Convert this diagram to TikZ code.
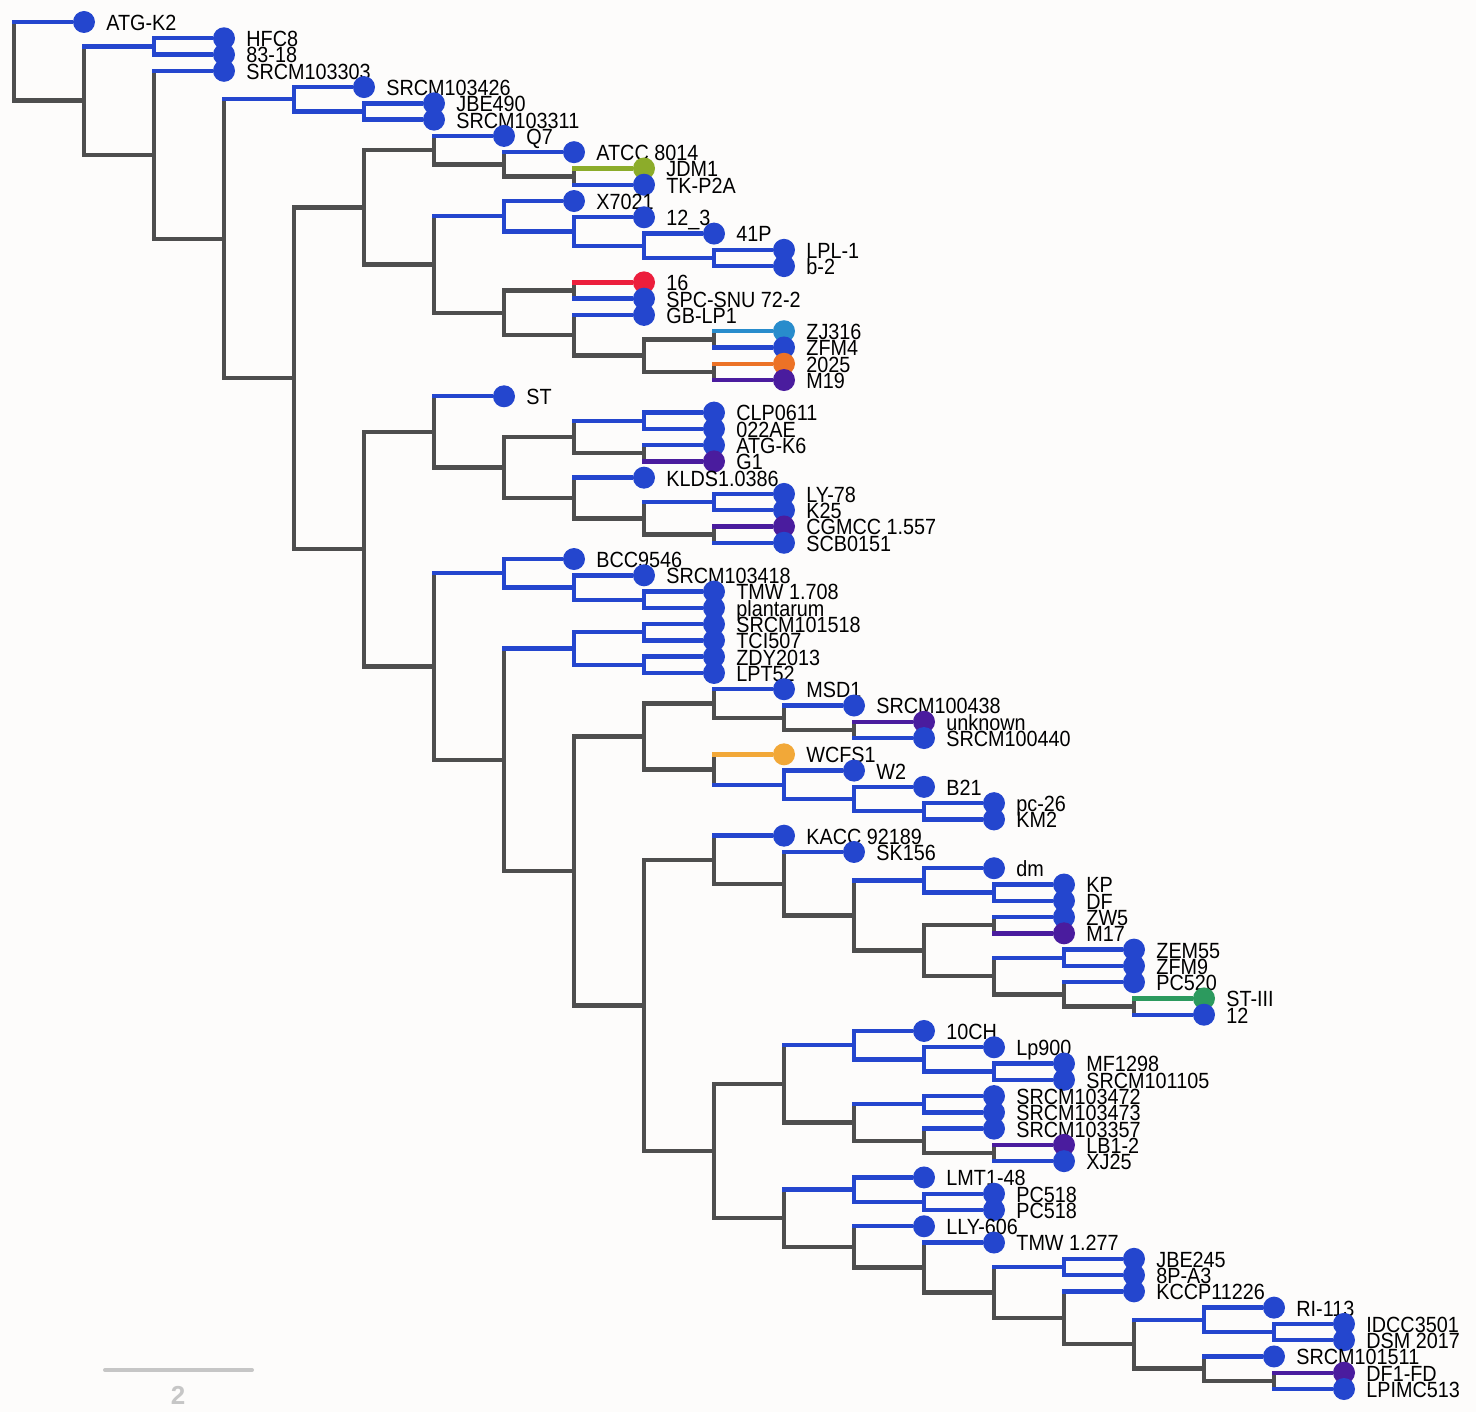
\documentclass[tikz,border=0pt]{standalone}
\usepackage{fontspec}
\setmainfont{Liberation Sans}
\newfontfamily\tagfont[FakeStretch=0.9]{Liberation Sans}
\usetikzlibrary{calc}
\definecolor{blu}{RGB}{36,70,206}
\definecolor{gry}{RGB}{78,78,78}
\definecolor{olv}{RGB}{140,172,42}
\definecolor{rd}{RGB}{236,30,60}
\definecolor{sky}{RGB}{40,140,204}
\definecolor{org}{RGB}{236,114,38}
\definecolor{pur}{RGB}{74,28,158}
\definecolor{ylw}{RGB}{242,168,56}
\definecolor{grn}{RGB}{44,154,94}
\definecolor{sbar}{RGB}{198,198,198}
\definecolor{bg}{RGB}{253,252,251}
\tikzset{
  leaf/.style={circle, fill=blu, inner sep=0pt, minimum size=11pt, label distance=5.5pt},
  tag/.style={anchor=base west, xshift=3.5pt, yshift=-4.2pt, inner sep=0pt, font=\tagfont\fontsize{11}{13}\selectfont},
}
\begin{document}
\begin{tikzpicture}[x=35pt, y=-8.137pt, line width=2.2pt, line cap=rect]
      \useasboundingbox (-0.2,-0.352) rectangle (20.886,86.41);
      \fill[bg] (-0.2,-0.352) rectangle (20.886,86.41);
      \node (atgk2)[leaf, label={[tag]0:ATG-K2}] at (1,1){};
      \node (hfc8)[leaf, label={[tag]0:HFC8}] at (3,2){};
      \node (l8318)[leaf, label={[tag]0:83-18}] at (3,3){};
      \node (s103303)[leaf, label={[tag]0:SRCM103303}] at (3,4){};
      \node (s103426)[leaf, label={[tag]0:SRCM103426}] at (5,5){};
      \node (jbe490)[leaf, label={[tag]0:JBE490}] at (6,6){};
      \node (s103311)[leaf, label={[tag]0:SRCM103311}] at (6,7){};
      \node (q7)[leaf, label={[tag]0:Q7}] at (7,8){};
      \node (atcc8014)[leaf, label={[tag]0:ATCC 8014}] at (8,9){};
      \node (jdm1)[leaf, fill=olv, label={[tag]0:JDM1}] at (9,10){};
      \node (tkp2a)[leaf, label={[tag]0:TK-P2A}] at (9,11){};
      \node (x7021)[leaf, label={[tag]0:X7021}] at (8,12){};
      \node (l12x3)[leaf, label={[tag]0:12\_3}] at (9,13){};
      \node (l41p)[leaf, label={[tag]0:41P}] at (10,14){};
      \node (lpl1)[leaf, label={[tag]0:LPL-1}] at (11,15){};
      \node (b2)[leaf, label={[tag]0:b-2}] at (11,16){};
      \node (l16)[leaf, fill=rd, label={[tag]0:16}] at (9,17){};
      \node (spcsnu)[leaf, label={[tag]0:SPC-SNU 72-2}] at (9,18){};
      \node (gblp1)[leaf, label={[tag]0:GB-LP1}] at (9,19){};
      \node (zj316)[leaf, fill=sky, label={[tag]0:ZJ316}] at (11,20){};
      \node (zfm4)[leaf, label={[tag]0:ZFM4}] at (11,21){};
      \node (l2025)[leaf, fill=org, label={[tag]0:2025}] at (11,22){};
      \node (m19)[leaf, fill=pur, label={[tag]0:M19}] at (11,23){};
      \node (st)[leaf, label={[tag]0:ST}] at (7,24){};
      \node (clp0611)[leaf, label={[tag]0:CLP0611}] at (10,25){};
      \node (l022ae)[leaf, label={[tag]0:022AE}] at (10,26){};
      \node (atgk6)[leaf, label={[tag]0:ATG-K6}] at (10,27){};
      \node (g1)[leaf, fill=pur, label={[tag]0:G1}] at (10,28){};
      \node (klds)[leaf, label={[tag]0:KLDS1.0386}] at (9,29){};
      \node (ly78)[leaf, label={[tag]0:LY-78}] at (11,30){};
      \node (k25)[leaf, label={[tag]0:K25}] at (11,31){};
      \node (cgmcc)[leaf, fill=pur, label={[tag]0:CGMCC 1.557}] at (11,32){};
      \node (scb0151)[leaf, label={[tag]0:SCB0151}] at (11,33){};
      \node (bcc9546)[leaf, label={[tag]0:BCC9546}] at (8,34){};
      \node (s103418)[leaf, label={[tag]0:SRCM103418}] at (9,35){};
      \node (tmw1708)[leaf, label={[tag]0:TMW 1.708}] at (10,36){};
      \node (plantarum)[leaf, label={[tag]0:plantarum}] at (10,37){};
      \node (s101518)[leaf, label={[tag]0:SRCM101518}] at (10,38){};
      \node (tci507)[leaf, label={[tag]0:TCI507}] at (10,39){};
      \node (zdy2013)[leaf, label={[tag]0:ZDY2013}] at (10,40){};
      \node (lpt52)[leaf, label={[tag]0:LPT52}] at (10,41){};
      \node (msd1)[leaf, label={[tag]0:MSD1}] at (11,42){};
      \node (s100438)[leaf, label={[tag]0:SRCM100438}] at (12,43){};
      \node (unknown)[leaf, fill=pur, label={[tag]0:unknown}] at (13,44){};
      \node (s100440)[leaf, label={[tag]0:SRCM100440}] at (13,45){};
      \node (wcfs1)[leaf, fill=ylw, label={[tag]0:WCFS1}] at (11,46){};
      \node (w2)[leaf, label={[tag]0:W2}] at (12,47){};
      \node (b21)[leaf, label={[tag]0:B21}] at (13,48){};
      \node (pc26)[leaf, label={[tag]0:pc-26}] at (14,49){};
      \node (km2)[leaf, label={[tag]0:KM2}] at (14,50){};
      \node (kacc)[leaf, label={[tag]0:KACC 92189}] at (11,51){};
      \node (sk156)[leaf, label={[tag]0:SK156}] at (12,52){};
      \node (dm)[leaf, label={[tag]0:dm}] at (14,53){};
      \node (kp)[leaf, label={[tag]0:KP}] at (15,54){};
      \node (df)[leaf, label={[tag]0:DF}] at (15,55){};
      \node (zw5)[leaf, label={[tag]0:ZW5}] at (15,56){};
      \node (m17)[leaf, fill=pur, label={[tag]0:M17}] at (15,57){};
      \node (zem55)[leaf, label={[tag]0:ZEM55}] at (16,58){};
      \node (zfm9)[leaf, label={[tag]0:ZFM9}] at (16,59){};
      \node (pc520)[leaf, label={[tag]0:PC520}] at (16,60){};
      \node (st3)[leaf, fill=grn, label={[tag]0:ST-III}] at (17,61){};
      \node (l12)[leaf, label={[tag]0:12}] at (17,62){};
      \node (l10ch)[leaf, label={[tag]0:10CH}] at (13,63){};
      \node (lp900)[leaf, label={[tag]0:Lp900}] at (14,64){};
      \node (mf1298)[leaf, label={[tag]0:MF1298}] at (15,65){};
      \node (s101105)[leaf, label={[tag]0:SRCM101105}] at (15,66){};
      \node (s103472)[leaf, label={[tag]0:SRCM103472}] at (14,67){};
      \node (s103473)[leaf, label={[tag]0:SRCM103473}] at (14,68){};
      \node (s103357)[leaf, label={[tag]0:SRCM103357}] at (14,69){};
      \node (lb12)[leaf, fill=pur, label={[tag]0:LB1-2}] at (15,70){};
      \node (xj25)[leaf, label={[tag]0:XJ25}] at (15,71){};
      \node (lmt148)[leaf, label={[tag]0:LMT1-48}] at (13,72){};
      \node (pc518a)[leaf, label={[tag]0:PC518}] at (14,73){};
      \node (pc518b)[leaf, label={[tag]0:PC518}] at (14,74){};
      \node (lly606)[leaf, label={[tag]0:LLY-606}] at (13,75){};
      \node (tmw1277)[leaf, label={[tag]0:TMW 1.277}] at (14,76){};
      \node (jbe245)[leaf, label={[tag]0:JBE245}] at (16,77){};
      \node (l8pa3)[leaf, label={[tag]0:8P-A3}] at (16,78){};
      \node (kccp)[leaf, label={[tag]0:KCCP11226}] at (16,79){};
      \node (ri113)[leaf, label={[tag]0:RI-113}] at (18,80){};
      \node (idcc3501)[leaf, label={[tag]0:IDCC3501}] at (19,81){};
      \node (dsm2017)[leaf, label={[tag]0:DSM 2017}] at (19,82){};
      \node (s101511)[leaf, label={[tag]0:SRCM101511}] at (18,83){};
      \node (df1fd)[leaf, fill=pur, label={[tag]0:DF1-FD}] at (19,84){};
      \node (lpimc513)[leaf, label={[tag]0:LPIMC513}] at (19,85){};
      \coordinate (n2) at ($(hfc8)!.5!(l8318)-(1,0)$);
      \coordinate (n7) at ($(jbe490)!.5!(s103311)-(1,0)$);
      \coordinate (n5) at ($(s103426)!.5!(n7)-(1,0)$);
      \coordinate (n13) at ($(jdm1)!.5!(tkp2a)-(1,0)$);
      \coordinate (n12) at ($(atcc8014)!.5!(n13)-(1,0)$);
      \coordinate (n10) at ($(q7)!.5!(n12)-(1,0)$);
      \coordinate (n18) at ($(lpl1)!.5!(b2)-(1,0)$);
      \coordinate (n17) at ($(l41p)!.5!(n18)-(1,0)$);
      \coordinate (n16) at ($(l12x3)!.5!(n17)-(1,0)$);
      \coordinate (n14) at ($(x7021)!.5!(n16)-(1,0)$);
      \coordinate (n19) at ($(l16)!.5!(spcsnu)-(1,0)$);
      \coordinate (n22) at ($(zj316)!.5!(zfm4)-(1,0)$);
      \coordinate (n23) at ($(l2025)!.5!(m19)-(1,0)$);
      \coordinate (n21) at ($(n22)!.5!(n23)-(1,0)$);
      \coordinate (n20) at ($(gblp1)!.5!(n21)-(1,0)$);
      \coordinate (n15) at ($(n19)!.5!(n20)-(1,0)$);
      \coordinate (n11) at ($(n14)!.5!(n15)-(1,0)$);
      \coordinate (n8) at ($(n10)!.5!(n11)-(1,0)$);
      \coordinate (n29) at ($(clp0611)!.5!(l022ae)-(1,0)$);
      \coordinate (n30) at ($(atgk6)!.5!(g1)-(1,0)$);
      \coordinate (n27) at ($(n29)!.5!(n30)-(1,0)$);
      \coordinate (n32) at ($(ly78)!.5!(k25)-(1,0)$);
      \coordinate (n33) at ($(cgmcc)!.5!(scb0151)-(1,0)$);
      \coordinate (n31) at ($(n32)!.5!(n33)-(1,0)$);
      \coordinate (n28) at ($(klds)!.5!(n31)-(1,0)$);
      \coordinate (n26) at ($(n27)!.5!(n28)-(1,0)$);
      \coordinate (n24) at ($(st)!.5!(n26)-(1,0)$);
      \coordinate (n37) at ($(tmw1708)!.5!(plantarum)-(1,0)$);
      \coordinate (n36) at ($(s103418)!.5!(n37)-(1,0)$);
      \coordinate (n34) at ($(bcc9546)!.5!(n36)-(1,0)$);
      \coordinate (n39) at ($(s101518)!.5!(tci507)-(1,0)$);
      \coordinate (n40) at ($(zdy2013)!.5!(lpt52)-(1,0)$);
      \coordinate (n38) at ($(n39)!.5!(n40)-(1,0)$);
      \coordinate (n47) at ($(unknown)!.5!(s100440)-(1,0)$);
      \coordinate (n46) at ($(s100438)!.5!(n47)-(1,0)$);
      \coordinate (n44) at ($(msd1)!.5!(n46)-(1,0)$);
      \coordinate (n50) at ($(pc26)!.5!(km2)-(1,0)$);
      \coordinate (n49) at ($(b21)!.5!(n50)-(1,0)$);
      \coordinate (n48) at ($(w2)!.5!(n49)-(1,0)$);
      \coordinate (n45) at ($(wcfs1)!.5!(n48)-(1,0)$);
      \coordinate (n42) at ($(n44)!.5!(n45)-(1,0)$);
      \coordinate (n57) at ($(kp)!.5!(df)-(1,0)$);
      \coordinate (n55) at ($(dm)!.5!(n57)-(1,0)$);
      \coordinate (n58) at ($(zw5)!.5!(m17)-(1,0)$);
      \coordinate (n60) at ($(zem55)!.5!(zfm9)-(1,0)$);
      \coordinate (n62) at ($(st3)!.5!(l12)-(1,0)$);
      \coordinate (n61) at ($(pc520)!.5!(n62)-(1,0)$);
      \coordinate (n59) at ($(n60)!.5!(n61)-(1,0)$);
      \coordinate (n56) at ($(n58)!.5!(n59)-(1,0)$);
      \coordinate (n54) at ($(n55)!.5!(n56)-(1,0)$);
      \coordinate (n53) at ($(sk156)!.5!(n54)-(1,0)$);
      \coordinate (n51) at ($(kacc)!.5!(n53)-(1,0)$);
      \coordinate (n68) at ($(mf1298)!.5!(s101105)-(1,0)$);
      \coordinate (n67) at ($(lp900)!.5!(n68)-(1,0)$);
      \coordinate (n65) at ($(l10ch)!.5!(n67)-(1,0)$);
      \coordinate (n69) at ($(s103472)!.5!(s103473)-(1,0)$);
      \coordinate (n71) at ($(lb12)!.5!(xj25)-(1,0)$);
      \coordinate (n70) at ($(s103357)!.5!(n71)-(1,0)$);
      \coordinate (n66) at ($(n69)!.5!(n70)-(1,0)$);
      \coordinate (n63) at ($(n65)!.5!(n66)-(1,0)$);
      \coordinate (n74) at ($(pc518a)!.5!(pc518b)-(1,0)$);
      \coordinate (n72) at ($(lmt148)!.5!(n74)-(1,0)$);
      \coordinate (n78) at ($(jbe245)!.5!(l8pa3)-(1,0)$);
      \coordinate (n84) at ($(idcc3501)!.5!(dsm2017)-(1,0)$);
      \coordinate (n82) at ($(ri113)!.5!(n84)-(1,0)$);
      \coordinate (n85) at ($(df1fd)!.5!(lpimc513)-(1,0)$);
      \coordinate (n83) at ($(s101511)!.5!(n85)-(1,0)$);
      \coordinate (n81) at ($(n82)!.5!(n83)-(1,0)$);
      \coordinate (n79) at ($(kccp)!.5!(n81)-(1,0)$);
      \coordinate (n77) at ($(n78)!.5!(n79)-(1,0)$);
      \coordinate (n76) at ($(tmw1277)!.5!(n77)-(1,0)$);
      \coordinate (n73) at ($(lly606)!.5!(n76)-(1,0)$);
      \coordinate (n64) at ($(n72)!.5!(n73)-(1,0)$);
      \coordinate (n52) at ($(n63)!.5!(n64)-(1,0)$);
      \coordinate (n43) at ($(n51)!.5!(n52)-(1,0)$);
      \coordinate (n41) at ($(n42)!.5!(n43)-(1,0)$);
      \coordinate (n35) at ($(n38)!.5!(n41)-(1,0)$);
      \coordinate (n25) at ($(n34)!.5!(n35)-(1,0)$);
      \coordinate (n9) at ($(n24)!.5!(n25)-(1,0)$);
      \coordinate (n6) at ($(n8)!.5!(n9)-(1,0)$);
      \coordinate (n4) at ($(n5)!.5!(n6)-(1,0)$);
      \coordinate (n3) at ($(s103303)!.5!(n4)-(1,0)$);
      \coordinate (n1) at ($(n2)!.5!(n3)-(1,0)$);
      \coordinate (n0) at ($(atgk2)!.5!(n1)-(1,0)$);
      \draw[blu] (hfc8) -| (n2) |- (l8318);
      \draw[blu] (jbe490) -| (n7) |- (s103311);
      \draw[blu] (s103426) -| (n5) |- (n7);
      \draw[blu] (lpl1) -| (n18) |- (b2);
      \draw[blu] (l41p) -| (n17) |- (n18);
      \draw[blu] (l12x3) -| (n16) |- (n17);
      \draw[blu] (x7021) -| (n14) |- (n16);
      \draw[blu] (clp0611) -| (n29) |- (l022ae);
      \draw[blu] (ly78) -| (n32) |- (k25);
      \draw[blu] (tmw1708) -| (n37) |- (plantarum);
      \draw[blu] (s103418) -| (n36) |- (n37);
      \draw[blu] (bcc9546) -| (n34) |- (n36);
      \draw[blu] (s101518) -| (n39) |- (tci507);
      \draw[blu] (zdy2013) -| (n40) |- (lpt52);
      \draw[blu] (n39) -| (n38) |- (n40);
      \draw[blu] (pc26) -| (n50) |- (km2);
      \draw[blu] (b21) -| (n49) |- (n50);
      \draw[blu] (w2) -| (n48) |- (n49);
      \draw[blu] (kp) -| (n57) |- (df);
      \draw[blu] (dm) -| (n55) |- (n57);
      \draw[blu] (zem55) -| (n60) |- (zfm9);
      \draw[blu] (mf1298) -| (n68) |- (s101105);
      \draw[blu] (lp900) -| (n67) |- (n68);
      \draw[blu] (l10ch) -| (n65) |- (n67);
      \draw[blu] (s103472) -| (n69) |- (s103473);
      \draw[blu] (pc518a) -| (n74) |- (pc518b);
      \draw[blu] (lmt148) -| (n72) |- (n74);
      \draw[blu] (jbe245) -| (n78) |- (l8pa3);
      \draw[blu] (idcc3501) -| (n84) |- (dsm2017);
      \draw[blu] (ri113) -| (n82) |- (n84);
      \draw[gry] (n13 |- jdm1) -- (n13 |- tkp2a);
      \draw[olv] (jdm1) -- (n13 |- jdm1);
      \draw[blu] (tkp2a) -- (n13 |- tkp2a);
      \draw[gry] (n13) -| (n12 |- atcc8014);
      \draw[blu] (atcc8014) -- (n12 |- atcc8014);
      \draw[gry] (n12) -| (n10 |- q7);
      \draw[blu] (q7) -- (n10 |- q7);
      \draw[gry] (n19 |- l16) -- (n19 |- spcsnu);
      \draw[rd] (l16) -- (n19 |- l16);
      \draw[blu] (spcsnu) -- (n19 |- spcsnu);
      \draw[gry] (n22 |- zj316) -- (n22 |- zfm4);
      \draw[sky] (zj316) -- (n22 |- zj316);
      \draw[blu] (zfm4) -- (n22 |- zfm4);
      \draw[gry] (n23 |- l2025) -- (n23 |- m19);
      \draw[org] (l2025) -- (n23 |- l2025);
      \draw[pur] (m19) -- (n23 |- m19);
      \draw[gry] (n22) -| (n21) |- (n23);
      \draw[gry] (n21) -| (n20 |- gblp1);
      \draw[blu] (gblp1) -- (n20 |- gblp1);
      \draw[gry] (n19) -| (n15) |- (n20);
      \draw[gry] (n15) -| (n11 |- n14);
      \draw[blu] (n14) -- (n11 |- n14);
      \draw[gry] (n10) -| (n8) |- (n11);
      \draw[gry] (n30 |- atgk6) -- (n30 |- g1);
      \draw[blu] (atgk6) -- (n30 |- atgk6);
      \draw[pur] (g1) -- (n30 |- g1);
      \draw[gry] (n30) -| (n27 |- n29);
      \draw[blu] (n29) -- (n27 |- n29);
      \draw[gry] (n33 |- cgmcc) -- (n33 |- scb0151);
      \draw[pur] (cgmcc) -- (n33 |- cgmcc);
      \draw[blu] (scb0151) -- (n33 |- scb0151);
      \draw[gry] (n33) -| (n31 |- n32);
      \draw[blu] (n32) -- (n31 |- n32);
      \draw[gry] (n31) -| (n28 |- klds);
      \draw[blu] (klds) -- (n28 |- klds);
      \draw[gry] (n27) -| (n26) |- (n28);
      \draw[gry] (n26) -| (n24 |- st);
      \draw[blu] (st) -- (n24 |- st);
      \draw[gry] (n47 |- unknown) -- (n47 |- s100440);
      \draw[pur] (unknown) -- (n47 |- unknown);
      \draw[blu] (s100440) -- (n47 |- s100440);
      \draw[gry] (n47) -| (n46 |- s100438);
      \draw[blu] (s100438) -- (n46 |- s100438);
      \draw[gry] (n46) -| (n44 |- msd1);
      \draw[blu] (msd1) -- (n44 |- msd1);
      \draw[gry] (n45 |- wcfs1) -- (n45 |- n48);
      \draw[ylw] (wcfs1) -- (n45 |- wcfs1);
      \draw[blu] (n48) -- (n45 |- n48);
      \draw[gry] (n44) -| (n42) |- (n45);
      \draw[gry] (n58 |- zw5) -- (n58 |- m17);
      \draw[blu] (zw5) -- (n58 |- zw5);
      \draw[pur] (m17) -- (n58 |- m17);
      \draw[gry] (n62 |- st3) -- (n62 |- l12);
      \draw[grn] (st3) -- (n62 |- st3);
      \draw[blu] (l12) -- (n62 |- l12);
      \draw[gry] (n62) -| (n61 |- pc520);
      \draw[blu] (pc520) -- (n61 |- pc520);
      \draw[gry] (n61) -| (n59 |- n60);
      \draw[blu] (n60) -- (n59 |- n60);
      \draw[gry] (n58) -| (n56) |- (n59);
      \draw[gry] (n56) -| (n54 |- n55);
      \draw[blu] (n55) -- (n54 |- n55);
      \draw[gry] (n54) -| (n53 |- sk156);
      \draw[blu] (sk156) -- (n53 |- sk156);
      \draw[gry] (n53) -| (n51 |- kacc);
      \draw[blu] (kacc) -- (n51 |- kacc);
      \draw[gry] (n71 |- lb12) -- (n71 |- xj25);
      \draw[pur] (lb12) -- (n71 |- lb12);
      \draw[blu] (xj25) -- (n71 |- xj25);
      \draw[gry] (n71) -| (n70 |- s103357);
      \draw[blu] (s103357) -- (n70 |- s103357);
      \draw[gry] (n70) -| (n66 |- n69);
      \draw[blu] (n69) -- (n66 |- n69);
      \draw[gry] (n66) -| (n63 |- n65);
      \draw[blu] (n65) -- (n63 |- n65);
      \draw[gry] (n85 |- df1fd) -- (n85 |- lpimc513);
      \draw[pur] (df1fd) -- (n85 |- df1fd);
      \draw[blu] (lpimc513) -- (n85 |- lpimc513);
      \draw[gry] (n85) -| (n83 |- s101511);
      \draw[blu] (s101511) -- (n83 |- s101511);
      \draw[gry] (n83) -| (n81 |- n82);
      \draw[blu] (n82) -- (n81 |- n82);
      \draw[gry] (n81) -| (n79 |- kccp);
      \draw[blu] (kccp) -- (n79 |- kccp);
      \draw[gry] (n79) -| (n77 |- n78);
      \draw[blu] (n78) -- (n77 |- n78);
      \draw[gry] (n77) -| (n76 |- tmw1277);
      \draw[blu] (tmw1277) -- (n76 |- tmw1277);
      \draw[gry] (n76) -| (n73 |- lly606);
      \draw[blu] (lly606) -- (n73 |- lly606);
      \draw[gry] (n73) -| (n64 |- n72);
      \draw[blu] (n72) -- (n64 |- n72);
      \draw[gry] (n63) -| (n52) |- (n64);
      \draw[gry] (n51) -| (n43) |- (n52);
      \draw[gry] (n42) -| (n41) |- (n43);
      \draw[gry] (n41) -| (n35 |- n38);
      \draw[blu] (n38) -- (n35 |- n38);
      \draw[gry] (n35) -| (n25 |- n34);
      \draw[blu] (n34) -- (n25 |- n34);
      \draw[gry] (n24) -| (n9) |- (n25);
      \draw[gry] (n8) -| (n6) |- (n9);
      \draw[gry] (n6) -| (n4 |- n5);
      \draw[blu] (n5) -- (n4 |- n5);
      \draw[gry] (n4) -| (n3 |- s103303);
      \draw[blu] (s103303) -- (n3 |- s103303);
      \draw[gry] (n3) -| (n1 |- n2);
      \draw[blu] (n2) -- (n1 |- n2);
      \draw[gry] (n1) -| (n0 |- atgk2);
      \draw[blu] (atgk2) -- (n0 |- atgk2);
      \coordinate (sbl) at (1.3,83.83);
      \coordinate (sbr) at (3.4,83.83);
      \draw[sbar, line width=2pt, line cap=round] (sbl) -- (sbr);
      \node (sblab)[text=sbar, font=\fontsize{13}{15}\selectfont\bfseries] at (2.343,85.37){2};
    \end{tikzpicture}
\end{document}
